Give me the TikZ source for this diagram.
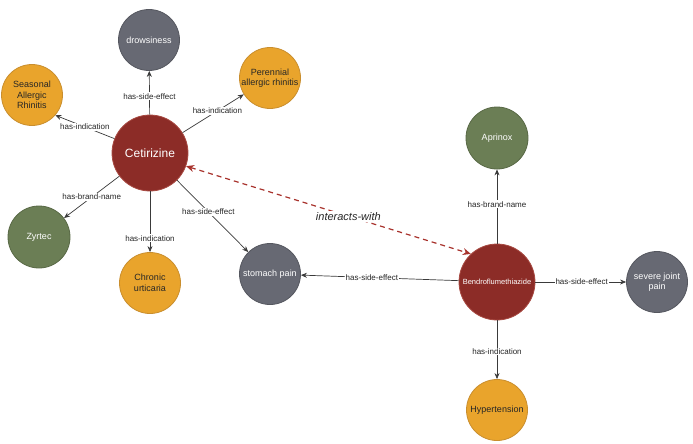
\documentclass[tikz,border=0pt]{standalone}
\usepackage{fontspec}
\setmainfont{Liberation Sans}
\usetikzlibrary{arrows.meta}
\definecolor{cred}{HTML}{8C2C27}
\definecolor{credb}{HTML}{A84A42}
\definecolor{cgray}{HTML}{676973}
\definecolor{cgrayb}{HTML}{55575F}
\definecolor{corange}{HTML}{E9A42C}
\definecolor{corangeb}{HTML}{C98E2E}
\definecolor{cgreen}{HTML}{6B7E55}
\definecolor{cgreenb}{HTML}{586845}
\definecolor{cedge}{HTML}{3A3A3A}
\definecolor{cdash}{HTML}{A8322C}
\begin{document}
\begin{tikzpicture}[x=1pt,y=-1pt,
  ent/.style={circle,inner sep=0pt,line width=0.8pt,align=center,font=\fontsize{9}{10.5}\selectfont},
  drug/.style={ent,fill=cred,draw=credb,text=white,minimum size=76pt},
  sidefx/.style={ent,fill=cgray,draw=cgrayb,text=white,minimum size=61pt},
  indic/.style={ent,fill=corange,draw=corangeb,text=black!85,minimum size=61pt},
  brand/.style={ent,fill=cgreen,draw=cgreenb,text=white,minimum size=62pt},
  rel/.style={draw=cedge,line width=0.7pt,-{Stealth[length=6pt,width=5pt]}},
  lbl/.style={fill=white,inner sep=1pt,text=black!85,font=\fontsize{8}{9}\selectfont},
  inter/.style={draw=cdash,line width=1.2pt,dash pattern=on 5pt off 4pt,{Stealth[length=8pt,width=7pt]}-{Stealth[length=8pt,width=7pt]}},
]
\useasboundingbox (0,0) rectangle (693,444);

\node[drug,font=\fontsize{12}{14}\selectfont] (cet) at (150,153) {Cetirizine};
\node[sidefx] (drow) at (149,40) {drowsiness};
\node[indic] (sar) at (32,95) {Seasonal\\Allergic\\Rhinitis};
\node[indic] (par) at (270,78) {Perennial\\allergic rhinitis};
\node[brand] (zyr) at (39,237) {Zyrtec};
\node[indic] (chr) at (150,283) {Chronic\\urticaria};
\node[sidefx] (sto) at (270,274) {stomach pain};

\node[drug,font=\fontsize{7.5}{8.5}\selectfont] (ben) at (497,282) {Bendroflumethiazide};
\node[brand] (apr) at (497,138) {Aprinox};
\node[sidefx] (sjp) at (657,282) {severe joint\\pain};
\node[indic] (hyp) at (497,410) {Hypertension};

\draw[rel] (cet) -- node[lbl,pos=0.42] {has-side-effect} (drow);
\draw[rel] (cet.158) -- node[lbl,pos=0.5] {has-indication} (sar.-41);
\draw[rel] (cet) -- node[lbl,pos=0.57] {has-indication} (par);
\draw[rel] (cet) -- node[lbl,pos=0.5] {has-brand-name} (zyr);
\draw[rel] (cet) -- node[lbl,pos=0.77] {has-indication} (chr);
\draw[rel] (cet) -- node[lbl,pos=0.44] {has-side-effect} (sto);

\draw[rel] (ben) -- node[lbl,pos=0.53] {has-brand-name} (apr);
\draw[rel] (ben) -- node[lbl,pos=0.55] {has-side-effect} (sto);
\draw[rel] (ben) -- node[lbl,pos=0.51] {has-side-effect} (sjp);
\draw[rel] (ben) -- node[lbl,pos=0.53] {has-indication} (hyp);

\draw[inter] (cet.-20) -- node[pos=0.57,fill=white,inner sep=1.5pt,text=black!85,font=\fontsize{11}{13}\selectfont\itshape] {interacts-with} (ben.133);
\end{tikzpicture}
\end{document}
